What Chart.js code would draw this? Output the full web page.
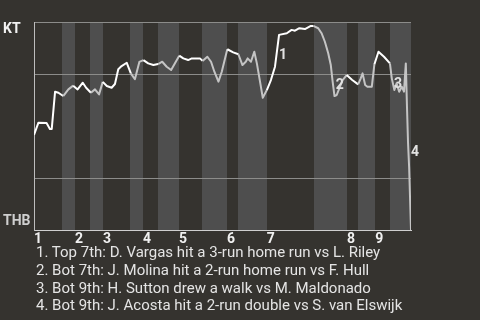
<!DOCTYPE html>
<html>
<head>
<meta charset="utf-8">
<script src="https://cdn.jsdelivr.net/npm/chart.js@4/dist/chart.umd.min.js"></script>
<style>
  html, body { margin: 0; padding: 0; background: #35332f; }
  #wrap { position: relative; width: 480px; height: 320px; overflow: hidden; }
  #notes {
    position: absolute; left: 36px; top: 244px;
    font: 15px Roboto, sans-serif; line-height: 17.8px; color: #e4e4e4;
    white-space: nowrap;
  }
</style>
</head>
<body>
<div id="wrap">
  <canvas id="wpChart" width="480" height="320"></canvas>
  <div id="notes"></div>
</div>
<script>
  // play number (game progress) and KT win probability in %
  const plays = [0, 1.2, 3.4, 4.3, 4.8, 5.7, 6.6, 7.9, 9.3, 10.6, 11.8, 13.2, 14.1, 15.4, 16.5, 17.6,
    18.6, 19.7, 21.0, 21.9, 22.8, 23.7, 25.1, 26.2, 27.3, 28.5, 29.6, 30.9, 32.3, 33.6, 34.7, 35.9,
    37.1, 38.1, 39.3, 40.4, 41.7, 42.7, 44.9, 45.6, 46.9, 47.9, 48.8, 49.9, 50.8, 52.3, 53.9, 55.3,
    56.4, 57.3, 57.8, 58.7, 59.6, 60.3, 61.0, 61.9, 63.0, 64.1, 65.2, 66.3, 68.4, 69.7, 70.6, 71.8,
    73.3, 74.9, 75.6, 76.9, 77.8, 78.7, 79.6, 80.3, 80.8, 81.3, 81.9, 82.6, 83.5, 84.6, 86.1, 87.7,
    88.4, 88.9, 89.6, 90.2, 91.4, 92.1, 93.2, 94.7, 96.3, 96.8, 97.5, 98.1, 98.8, 99.5, 100.1, 100.6,
    100.9, 101.2, 101.5, 102];
  const ktWinPct = [45.7, 51.6, 51.4, 48.6, 48.6, 66.5, 66.0, 64.4, 67.6, 69.4, 67.6, 70.8, 68.4, 66.0, 67.6, 65.2,
    71.2, 69.2, 68.4, 70.2, 77.3, 78.8, 80.4, 75.3, 72.5, 80.8, 81.7, 80.1, 79.3, 79.8, 80.9, 78.5,
    76.9, 80.1, 83.8, 82.5, 81.7, 82.5, 82.5, 81.3, 83.3, 80.9, 76.1, 71.3, 76.1, 86.9, 85.4, 84.5,
    79.3, 80.9, 82.5, 80.9, 85.7, 80.1, 72.9, 63.6, 67.3, 72.1, 78.5, 93.8, 94.6, 96.2, 95.8, 97.0,
    96.6, 98.1, 98.1, 97.0, 94.6, 90.5, 85.0, 79.3, 71.3, 64.4, 64.9, 68.1, 72.1, 74.5, 72.1, 70.0,
    72.9, 75.3, 69.7, 68.9, 68.9, 79.7, 85.7, 83.3, 80.1, 72.9, 67.3, 70.5, 66.5, 68.9, 66.5, 80.1,
    60.0, 41.8, 29.8, 0];

  // where each half inning starts (top 1st, bot 1st, ...), last value = end of game
  const halfStarts = [0, 7.6, 11.1, 15.2, 18.7, 26.0, 29.5, 33.6, 39.2, 45.5, 52.2, 55.2, 63.0,
    75.8, 84.7, 87.7, 92.3, 96.3, 102];
  const innings = ['1', '2', '3', '4', '5', '6', '7', '8', '9'];
  const gridValues = [25, 75, 100];

  const teamTop = 'KT';
  const teamBottom = 'THB';

  // annotation markers on the line
  const markText = ['1', '2', '3', '4'];
  const markPlay = [67.4, 82.7, 98.5, 103.1];
  const markPct = [83.7, 69.5, 70.0, 37.5];

  const notes = [
    '1. Top 7th: D. Vargas hit a 3-run home run vs L. Riley',
    '2. Bot 7th: J. Molina hit a 2-run home run vs F. Hull',
    '3. Bot 9th: H. Sutton drew a walk vs M. Maldonado',
    '4. Bot 9th: J. Acosta hit a 2-run double vs S. van Elswijk'
  ];

  const BG = '#35332f';
  const BAND = '#4e4e4e';

  document.getElementById('notes').innerHTML = notes.map(n => '<div>' + n + '</div>').join('');

  function halfIndex(v) {
    for (let i = 0; i < halfStarts.length - 1; i++) {
      if (v < halfStarts[i + 1]) return i;
    }
    return halfStarts.length - 2;
  }

  const bandsPlugin = {
    id: 'bands',
    beforeDraw(chart) {
      const { ctx, chartArea, scales } = chart;
      ctx.save();
      ctx.fillStyle = BG;
      ctx.fillRect(0, 0, chart.width, chart.height);
      ctx.fillStyle = BAND;
      for (let i = 1; i < halfStarts.length - 1; i += 2) {
        const x0 = Math.round(scales.x.getPixelForValue(halfStarts[i]));
        const x1 = Math.round(scales.x.getPixelForValue(halfStarts[i + 1]));
        ctx.fillRect(x0, chartArea.top, x1 - x0, chartArea.bottom - chartArea.top);
      }
      ctx.restore();
    }
  };

  const labelsPlugin = {
    id: 'labels',
    afterDraw(chart) {
      const { ctx, chartArea, scales } = chart;
      ctx.save();
      ctx.font = 'bold 14px Roboto, sans-serif';
      ctx.textAlign = 'left';
      ctx.textBaseline = 'alphabetic';
      ctx.fillStyle = '#f2f2f2';
      ctx.fillText(teamTop, 3, chartArea.top + 11);
      ctx.fillStyle = '#cfcfcf';
      ctx.fillText(teamBottom, 3, chartArea.bottom - 5);

      ctx.textAlign = 'center';
      ctx.textBaseline = 'middle';
      ctx.fillStyle = '#e2e2e2';
      markText.forEach((t, i) => {
        ctx.fillText(t, scales.x.getPixelForValue(markPlay[i]), scales.y.getPixelForValue(markPct[i]));
      });
      ctx.restore();
    }
  };

  const points = plays.map((p, i) => ({ x: p, y: ktWinPct[i] }));

  new Chart(document.getElementById('wpChart'), {
    type: 'line',
    data: {
      datasets: [{
        data: points,
        borderWidth: 2,
        borderColor: '#ffffff',
        pointRadius: 0,
        tension: 0,
        borderJoinStyle: 'round',
        segment: {
          borderColor: c => halfIndex((c.p0.parsed.x + c.p1.parsed.x) / 2) % 2 === 0 ? '#ffffff' : '#c4c4c4'
        }
      }]
    },
    options: {
      responsive: false,
      animation: false,
      devicePixelRatio: 1,
      layout: { padding: { left: 34, top: 22, right: 69, bottom: 74 } },
      plugins: { legend: { display: false }, tooltip: { enabled: false } },
      scales: {
        x: {
          type: 'linear',
          min: 0,
          max: 102,
          afterFit: s => { s.height = 16; },
          afterBuildTicks: s => { s.ticks = halfStarts.filter((v, i) => i % 2 === 0 && i < 18).map(v => ({ value: v })); },
          grid: { display: false, drawTicks: false },
          border: { display: true, color: '#cfcfcf', width: 1 },
          ticks: {
            autoSkip: false,
            maxRotation: 0,
            align: 'start',
            padding: 1,
            color: '#f0f0f0',
            font: { family: 'Roboto', size: 14, weight: 'bold' },
            callback: (v, i) => innings[i]
          }
        },
        y: {
          min: 0,
          max: 100,
          afterFit: s => { s.width = 0; },
          afterBuildTicks: s => { s.ticks = gridValues.map(v => ({ value: v })); },
          grid: { color: '#8c8c8a', lineWidth: 1, drawTicks: false },
          border: { display: true, color: '#bdbdbd', width: 1 },
          ticks: { display: false }
        }
      }
    },
    plugins: [bandsPlugin, labelsPlugin]
  });
</script>
</body>
</html>
